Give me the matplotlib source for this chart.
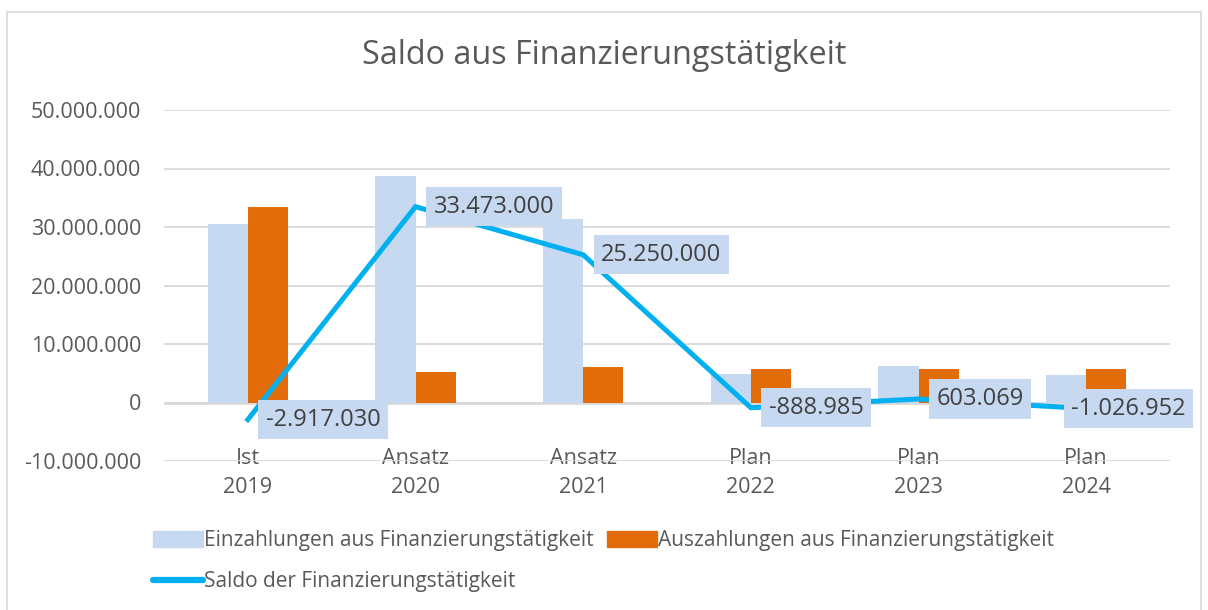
import numpy as np
import matplotlib.pyplot as plt
from matplotlib.patches import Rectangle
from matplotlib.lines import Line2D

# values
categories = ["Ist\n2019", "Ansatz\n2020", "Ansatz\n2021", "Plan\n2022", "Plan\n2023", "Plan\n2024"]
einzahlungen = [30555000, 38750000, 31300000, 4900000, 6300000, 4650000]
auszahlungen = [33472030, 5277000, 6050000, 5788985, 5696931, 5676952]
saldo = [-2917030, 33473000, 25250000, -888985, 603069, -1026952]
yticks = [-10000000, 0, 10000000, 20000000, 30000000, 40000000, 50000000]

C_EIN = "#C6D9F0"
C_AUS = "#E36C0A"
C_SALDO = "#00B0F0"
C_TEXT = "#595959"
C_GRID = "#D9D9D9"

def de_fmt(v):
    s = f"{abs(v):,}".replace(",", ".")
    return ("-" if v < 0 else "") + s

plt.rcParams['font.family'] = ['Open Sans', 'DejaVu Sans']

fig = plt.figure(figsize=(12.08, 6.10), dpi=100)
fig.patch.set_facecolor("white")
# outer chart frame
fig.patches.append(Rectangle((7/1208, -0.05), 1194/1208, 1.05 - 12/610, transform=fig.transFigure,
                             fill=False, edgecolor="#D9D9D9", lw=1.2))

ax = fig.add_axes([164/1208, 1 - 461/610, 1006/1208, 351/610])
x = np.arange(len(categories))
w = 0.24
ax.bar(x - w/2, einzahlungen, w, color=C_EIN, zorder=2)
ax.bar(x + w/2, auszahlungen, w, color=C_AUS, zorder=2)
ax.plot(x, saldo, color=C_SALDO, lw=3.6, solid_joinstyle="miter", zorder=3)

# data labels of the saldo line
label_dx = [18, 18, 18, 18, 18, -15]
for xi, v, dx in zip(x, saldo, label_dx):
    ax.annotate(de_fmt(v), (xi, v), xytext=(dx, 0), textcoords="offset pixels",
                ha="left", va="center", fontsize=17, color="#404040", zorder=4,
                bbox=dict(boxstyle="square,pad=0.32", fc=C_EIN, ec="none"))

ax.set_xlim(-0.5, len(categories) - 0.5)
ax.set_ylim(-10000000, 50000000)
ax.set_yticks(yticks)
ax.set_yticklabels([de_fmt(t) for t in yticks])
ax.set_xticks(x)
ax.set_xticklabels(categories, linespacing=1.45)
ax.tick_params(axis="y", length=0, pad=16.5, labelsize=15.5, labelcolor=C_TEXT)
ax.tick_params(axis="x", length=0, pad=-9, labelsize=15.5, labelcolor=C_TEXT)
ax.grid(axis="y", color=C_GRID, lw=1.3, zorder=0)
ax.axhline(0, color=C_GRID, lw=2, zorder=1)
for s in ax.spines.values():
    s.set_visible(False)

fig.text(604/1208, 1 - 55/610, "Saldo aus Finanzierungstätigkeit", ha="center", va="center",
         fontsize=23.3, color=C_TEXT)

handles = [Rectangle((0, 0), 1, 1, color=C_EIN),
           Line2D([0], [0], color=C_SALDO, lw=4.5, solid_capstyle="round"),
           Rectangle((0, 0), 1, 1, color=C_AUS)]
labels = ["Einzahlungen aus Finanzierungstätigkeit", "Saldo der Finanzierungstätigkeit",
          "Auszahlungen aus Finanzierungstätigkeit"]
fig.legend(handles, labels, ncol=2, loc="upper left", bbox_to_anchor=(143/1208, 1 - 520/610),
           frameon=False, handlelength=2.4, handleheight=0.8, handletextpad=0.05,
           columnspacing=0.6, labelspacing=0.95, fontsize=15, labelcolor=C_TEXT,
           borderpad=0)

fig.savefig("out.png", dpi=100, facecolor="white")
